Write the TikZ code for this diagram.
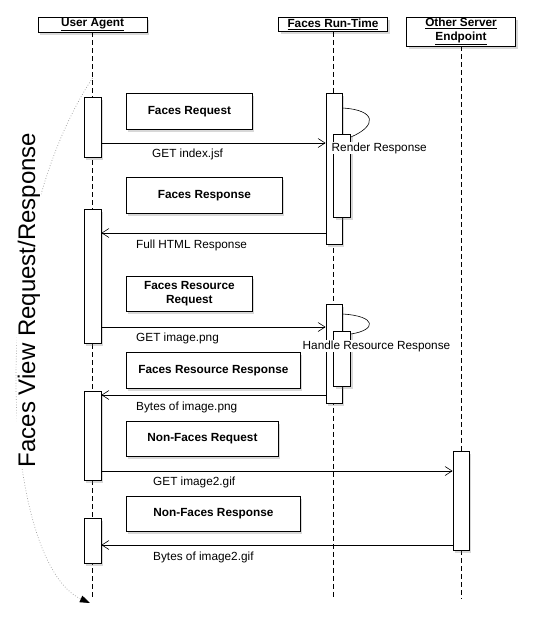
\documentclass[tikz,border=0pt]{standalone}
\usepackage{fontspec}
\setmainfont{Liberation Sans}
\usetikzlibrary{arrows.meta,shadows}

\begin{document}
\begin{tikzpicture}[x=1pt, y=-1pt,
  boxshadow/.style={drop shadow={shadow xshift=2pt, shadow yshift=-3pt, opacity=0.3}},
  actor/.style={draw, line width=0.8pt, fill=white, boxshadow, anchor=north,
    minimum width=109pt, minimum height=14pt, inner sep=1pt, align=center},
  bar/.style={draw, line width=0.8pt, fill=white, boxshadow, anchor=north,
    minimum width=17pt, inner sep=0pt},
  note/.style={draw, line width=0.8pt, fill=white, boxshadow, anchor=north west,
    minimum height=36pt, inner sep=1pt, align=center, font=\bfseries},
  lifeline/.style={line width=0.6pt, dash pattern=on 5pt off 3pt},
  msg/.style={line width=0.6pt, -{Straight Barb[length=7pt, width=9pt]}},
  msglabel/.style={anchor=west, inner sep=0pt},
  steplabel/.style={anchor=west, fill=white, inner sep=0.5pt}]

\newcommand\DOTGRAY{gray!80}
\fontsize{11.8}{13.5}\selectfont
\useasboundingbox[fill=white] (0,0) rectangle (535,619);

%% actors and lifelines
\node[actor] (ua) at (92.5,17) {\underline{\textbf{User Agent}}};
\node[actor] (frt) at (333,17) {\underline{\textbf{Faces Run-Time}}};
\node[actor, minimum height=27pt] (ose) at (461,17)
{\underline{\textbf{Other Server}}\\\underline{\textbf{Endpoint}}};

\coordinate (bottom) at (0,599);
\draw[lifeline] (ua.south) -- (ua.south |- bottom);
\draw[lifeline] (frt.south) -- (frt.south |- bottom);
\draw[lifeline] (ose.south) -- (ose.south |- bottom);

%% view request/response
\coordinate (viewstart) at (92.5,78);
\coordinate (viewend) at (90,603);
\draw[\DOTGRAY, dotted, line width=0.7pt, -{Triangle[length=10pt, width=7pt, color=black]}]
(viewstart) .. controls (-20,250) and (5,565) .. (viewend);
\node[rotate=90, anchor=base, fill=white, inner sep=1pt, font=\fontsize{24}{28}\selectfont]
(view) at (35,300) {Faces View Request/Response};

%% activations
\node[bar, minimum height=60pt] (ua1) at (92.5,97) {};
\node[bar, minimum height=134pt] (ua2) at (92.5,209) {};
\node[bar, minimum height=89pt] (ua3) at (92.5,391) {};
\node[bar, minimum height=45pt] (ua4) at (92.5,518) {};

\node[bar, minimum width=16pt, minimum height=151pt] (frt1) at (334,93) {};
\node[bar, minimum height=83pt] (frt1in) at (342,134) {};
\node[bar, minimum width=16pt, minimum height=99pt] (frt2) at (334,304) {};
\node[bar, minimum height=55pt] (frt2in) at (342,331) {};

\node[bar, minimum width=16pt, minimum height=99pt] (ose1) at (461,451) {};

%% notes
\node[note, minimum width=126pt] (freq) at (126,93) {Faces Request};
\node[note, minimum width=156pt] (fresp) at (126,177) {Faces Response};
\node[note, minimum width=126pt, minimum height=35pt] (frreq) at (126,276)
{Faces Resource\\Request};
\node[note, minimum width=174pt] (frresp) at (126,352) {Faces Resource Response};
\node[note, minimum width=152pt, minimum height=35pt] (nfreq) at (126,421) {Non-Faces Request};
\node[note, minimum width=174pt, minimum height=35pt] (nfresp) at (126,496) {Non-Faces Response};

%% messages
\draw[msg] (ua1.east |- 0,143) -- (frt1.west |- 0,143);
\node[msglabel] (getindex) at (152,154) {GET index.jsf};
\draw[msg] (frt1.west |- 0,233) -- (ua2.east |- 0,233);
\node[msglabel] (fullhtml) at (136,245) {Full HTML Response};
\draw[msg] (ua2.east |- 0,327) -- (frt2.west |- 0,327);
\node[msglabel] (getpng) at (136,338) {GET image.png};
\draw[msg] (frt2.west |- 0,395) -- (ua3.east |- 0,395);
\node[msglabel] (bytespng) at (136,407) {Bytes of image.png};
\draw[msg] (ua3.east |- 0,471) -- (ose1.west |- 0,471);
\node[msglabel] (getgif) at (153,482) {GET image2.gif};
\draw[msg] (ose1.west |- 0,545) -- (ua4.east |- 0,545);
\node[msglabel] (bytesgif) at (153,557) {Bytes of image2.gif};

%% self calls
\draw[line width=0.6pt] (frt1.east |- 0,108) .. controls (377,110) and (377,126) ..
([yshift=-3pt]frt1in.north east);
\node[steplabel] (render) at (331,148) {Render Response};
\draw[line width=0.6pt] (frt2.east |- 0,314) .. controls (377,316) and (377,330) ..
([yshift=-3pt]frt2in.north east);
\node[steplabel] (handle) at (302,346) {Handle Resource Response};
\end{tikzpicture}
\end{document}
